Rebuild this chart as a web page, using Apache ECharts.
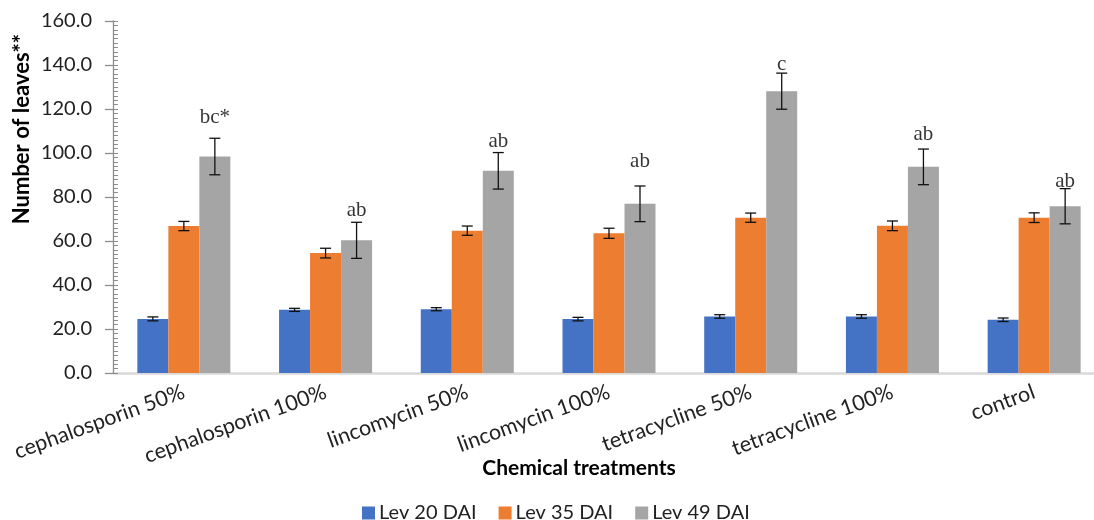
<!DOCTYPE html>
<html>
<head>
<meta charset="utf-8">
<script src="https://cdn.jsdelivr.net/npm/echarts@6/dist/echarts.min.js"></script>
<style>
html,body{margin:0;padding:0;background:#fff;overflow:hidden;width:1094px;height:520px;}
#chart{width:1110px;height:520px;}
</style>
</head>
<body>
<div id="chart"></div>
<script>
const categories = ['cephalosporin 50%','cephalosporin 100%','lincomycin 50%','lincomycin 100%','tetracycline 50%','tetracycline 100%','control'];
const seriesNames = ['Lev 20 DAI','Lev 35 DAI','Lev 49 DAI'];
const lev20 = [24.6, 28.7, 29.0, 24.5, 25.7, 25.7, 24.2];
const lev20Err = [0.9, 0.7, 0.7, 0.8, 0.8, 0.8, 0.8];
const lev35 = [66.8, 54.5, 64.7, 63.5, 70.6, 66.9, 70.6];
const lev35Err = [2.1, 2.2, 2.1, 2.3, 2.1, 2.2, 2.2];
const lev49 = [98.4, 60.3, 91.9, 76.9, 128.1, 93.7, 75.8];
const lev49Err = [8.3, 8.2, 8.3, 8.1, 8.2, 8.1, 8.0];
const annotLabels = ['bc*','ab','ab','ab','c','ab','ab'];
const annotY = [116.2, 73.8, 105.4, 96.3, 140.4, 108.5, 87.1];
const yTicks = [0, 20, 40, 60, 80, 100, 120, 140, 160];

const BAR_W = 31;
const colors = ['#4472C4', '#ED7D31', '#A5A5A5'];
const axisColor = '#8c8c8c';
const textColor = '#222222';
const sans = 'Lato, "Open Sans", sans-serif';

const values = [lev20, lev35, lev49];
const errs = [lev20Err, lev35Err, lev49Err];
const errData = [];
values.forEach((arr, s) => arr.forEach((v, i) => {
  errData.push([i, v - errs[s][i], v + errs[s][i], s]);
}));

const chart = echarts.init(document.getElementById('chart'));
chart.setOption({
  animation: false,
  color: colors,
  grid: { left: 113, top: 21, width: 992, height: 352 },
  legend: {
    data: seriesNames,
    left: 357, top: 498,
    itemWidth: 13, itemHeight: 13, itemGap: 22,
    icon: 'rect',
    textStyle: { fontFamily: sans, fontSize: 20, color: textColor, padding: [0, 0, 0, -1] }
  },
  xAxis: [{
    type: 'category',
    data: categories,
    axisLine: { lineStyle: { color: axisColor, width: 1.3 } },
    axisTick: { show: false },
    axisLabel: { rotate: 20, margin: 18, fontFamily: sans, fontSize: 21.5, color: textColor, interval: 0 }
  }, {
    type: 'category',
    data: categories,
    position: 'top',
    axisLine: { lineStyle: { color: '#d9d9d9', width: 1 } },
    axisTick: { show: false },
    axisLabel: { show: false }
  }],
  yAxis: [{
    type: 'value',
    min: 0, max: 160, interval: 20,
    axisLine: { show: true, lineStyle: { color: axisColor, width: 1.3 } },
    axisTick: { show: true, length: 8, lineStyle: { color: axisColor, width: 1.3 } },
    splitLine: { show: false },
    axisLabel: {
      margin: 21, fontFamily: sans, fontSize: 20, color: textColor,
      formatter: v => (yTicks.indexOf(v) >= 0 ? v.toFixed(1) : '')
    }
  }, {
    type: 'value',
    position: 'left',
    min: 0, max: 160, interval: 2,
    axisLine: { show: false },
    axisTick: { show: true, inside: true, length: 5, lineStyle: { color: axisColor, width: 1 } },
    splitLine: { show: false },
    axisLabel: { show: false }
  }],
  graphic: [{
    type: 'text',
    x: 22, y: 129,
    rotation: Math.PI / 2,
    style: { text: 'Number of leaves**', fontFamily: sans, fontWeight: 'bold', fontSize: 22, fill: '#000', textAlign: 'center', textVerticalAlign: 'middle' }
  }, {
    type: 'text',
    x: 579, y: 468,
    style: { text: 'Chemical treatments', fontFamily: sans, fontWeight: 'bold', fontSize: 21, fill: '#000', textAlign: 'center', textVerticalAlign: 'middle' }
  }],
  series: [
    ...seriesNames.map((n, s) => ({
      name: n, type: 'bar', data: values[s], barWidth: BAR_W, barGap: '0%',
      itemStyle: { color: colors[s] }, z: 2
    })),
    {
      type: 'custom',
      data: errData,
      encode: { x: 0, y: [1, 2] },
      z: 5,
      silent: true,
      renderItem: function (params, api) {
        const cat = api.value(0), lo = api.value(1), hi = api.value(2), s = api.value(3);
        const pLo = api.coord([cat, lo]);
        const pHi = api.coord([cat, hi]);
        const x = pLo[0] + (s - 1) * BAR_W;
        const cap = 5.5;
        const st = { stroke: '#111', lineWidth: 1.3 };
        return {
          type: 'group',
          children: [
            { type: 'line', shape: { x1: x, y1: pLo[1], x2: x, y2: pHi[1] }, style: st },
            { type: 'line', shape: { x1: x - cap, y1: pLo[1], x2: x + cap, y2: pLo[1] }, style: st },
            { type: 'line', shape: { x1: x - cap, y1: pHi[1], x2: x + cap, y2: pHi[1] }, style: st }
          ]
        };
      }
    },
    {
      type: 'scatter',
      data: annotY.map((v, i) => [i, v]),
      symbolSize: 1,
      itemStyle: { color: 'rgba(0,0,0,0)' },
      silent: true,
      z: 6,
      label: {
        show: true, position: 'inside', offset: [BAR_W, 0],
        formatter: p => annotLabels[p.dataIndex],
        fontFamily: '"Liberation Serif", "Times New Roman", serif', fontSize: 21, color: '#000'
      }
    }
  ]
});
</script>
</body>
</html>
